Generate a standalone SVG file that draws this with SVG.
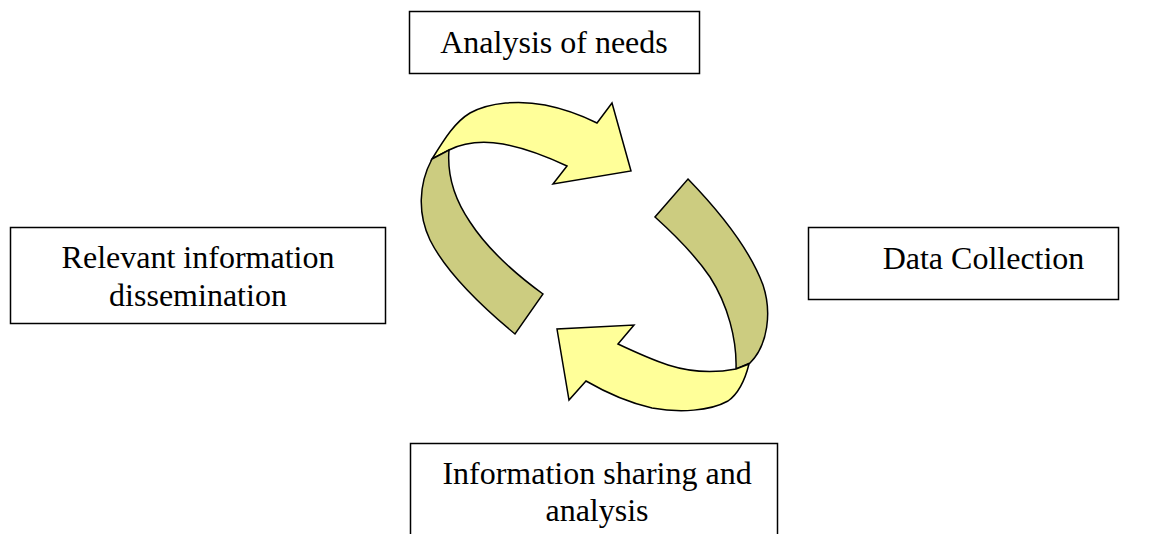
<svg xmlns="http://www.w3.org/2000/svg" width="1160" height="534" viewBox="0 0 1160 534">
<style>
.box{fill:#ffffff;stroke:#000000;stroke-width:1.5}
.lbl{font-family:"Liberation Serif","Times New Roman",serif;font-size:32px;fill:#000000;text-anchor:middle}
.light{fill:#FFFF99;stroke:#000000;stroke-width:1.5;stroke-linejoin:miter}
.dark{fill:#CCCC80;stroke:#000000;stroke-width:1.5;stroke-linejoin:miter}
</style>
<rect width="1160" height="534" fill="#ffffff"/>
<g id="connectors">
<g id="arrow-top">
<path class="light" d="M432,159 C445,138 455,122 470,113 C490,102 520,100 545,105 C565,109 585,117 597,123 L612,103 L631,171 L553,184 L567,166 C550,158 525,148 503,144 C485,141 465,142 449,150 Z"/>
<path class="dark" d="M432,159 L449,150 C447,175 455,200 470,222 C485,245 510,270 543,294 L515,334 C480,305 445,270 430,240 C418,215 418,185 432,159 Z"/>
</g>
<g id="arrow-bottom">
<path class="dark" d="M688,179 C720,212 750,250 763,285 C772,312 768,345 750,363 L736,369 C737,340 728,305 710,277 C695,255 675,235 655,217 Z"/>
<path class="light" d="M736,369 C715,373 690,372 668,365 C650,359 635,352 618,344 L634,325 L557,329 L569,400 L586,381 C605,392 630,403 652,408 C680,413 710,411 728,401 C738,394 745,380 749,364 Z"/>
</g>
</g>
<g id="node-analysis">
<rect class="box" x="409.5" y="11.5" width="290" height="62"/>
<text class="lbl" x="554" y="53">Analysis of needs</text>
</g>
<g id="node-data">
<rect class="box" x="808.5" y="227.5" width="310" height="72"/>
<text class="lbl" x="983.5" y="269">Data Collection</text>
</g>
<g id="node-sharing">
<rect class="box" x="410.5" y="443.5" width="367" height="100"/>
<text class="lbl" x="597" y="483.5">Information sharing and</text>
<text class="lbl" x="597" y="520.5">analysis</text>
</g>
<g id="node-dissemination">
<rect class="box" x="10.5" y="227.5" width="375" height="96"/>
<text class="lbl" x="198" y="268">Relevant information</text>
<text class="lbl" x="198" y="305.5">dissemination</text>
</g>
</svg>
